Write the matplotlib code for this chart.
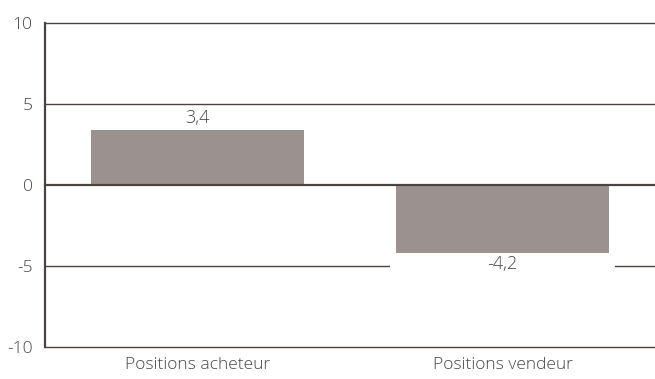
import matplotlib
matplotlib.use("Agg")
import matplotlib.pyplot as plt
from matplotlib.patches import Rectangle

categories = ["Positions acheteur", "Positions vendeur"]
values = [3.4, -4.2]
labels = ["3,4", "-4,2"]
yticks = [-10, -5, 0, 5, 10]

plt.rcParams['font.family'] = ['Open Sans', 'DejaVu Sans']
plt.rcParams['font.weight'] = 'light'

fig = plt.figure(figsize=(6.55, 3.79), dpi=100)
ax = fig.add_axes([45/655, 1-347/379, 1-45/655, (347-23)/379])

grid_c = "#4a4340"
text_c = "#4a4545"
bar_c = "#9b918f"

x = list(range(len(categories)))
ax.bar(x, values, width=0.70, color=bar_c, zorder=2)
ax.set_xlim(-0.5, len(categories)-0.5)
ax.set_ylim(-10, 10)

for t in yticks:
    ax.axhline(t, color=grid_c, lw=1.6 if t == 0 else 1.0, zorder=3 if t == 0 else 1, clip_on=False)

for s in ["top", "right", "bottom"]:
    ax.spines[s].set_visible(False)
ax.spines["left"].set_color(grid_c)
ax.spines["left"].set_linewidth(1.6)

ax.set_yticks(yticks)
ax.set_yticklabels([str(t) for t in yticks])
ax.set_xticks(x)
ax.set_xticklabels(categories)
ax.tick_params(axis="both", length=0, labelsize=12.5, colors=text_c)
ax.tick_params(axis="y", pad=9)
ax.tick_params(axis="x", pad=7)

for xi, v, lab in zip(x, values, labels):
    if v >= 0:
        ax.text(xi, v + 0.15, lab, ha="center", va="bottom", fontsize=13, color=text_c, zorder=4)
    else:
        ax.add_patch(Rectangle((xi - 0.37, v - 1.6), 0.74, 1.6, facecolor="white", edgecolor="none", zorder=1.5))
        ax.text(xi, v - 0.1, lab, ha="center", va="top", fontsize=13, color=text_c, zorder=4)

fig.savefig("out.png", dpi=100)
